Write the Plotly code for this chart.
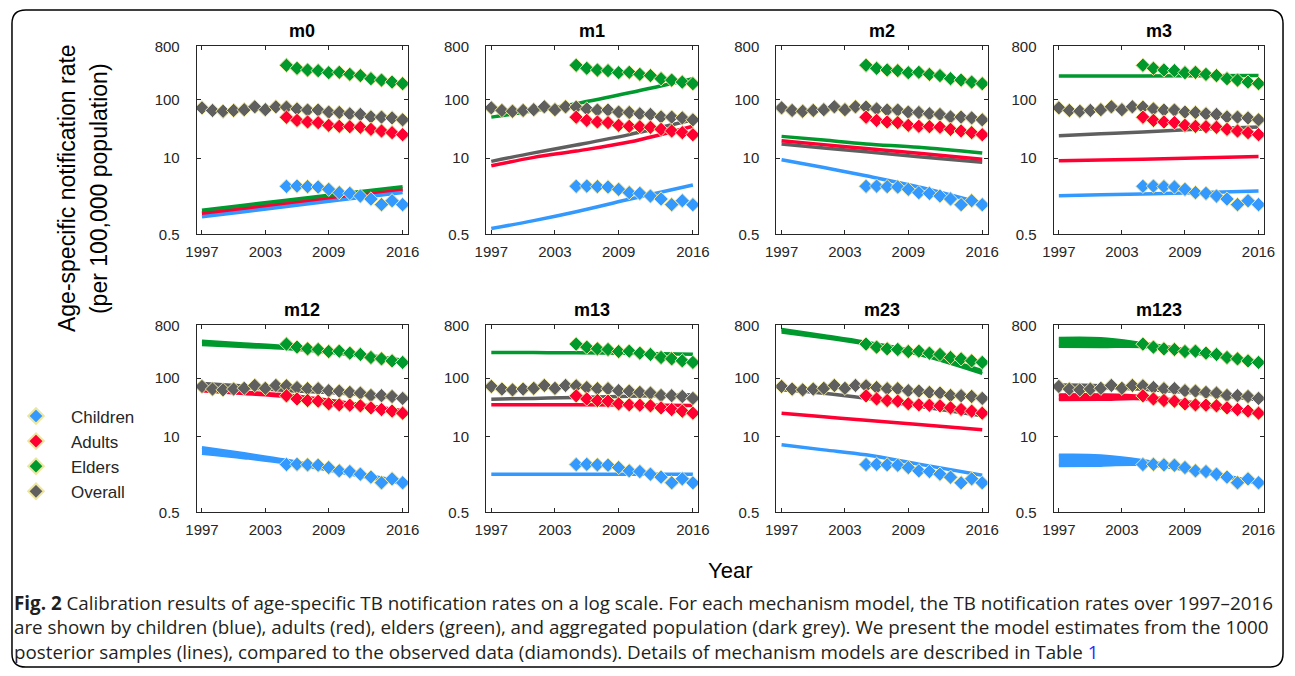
import math
import plotly.graph_objects as go

W, H = 1295, 676

# ---------------- observed data (diamonds) ----------------
OBS_YEARS_ALL = list(range(1997, 2017))
OBS_YEARS_AGE = list(range(2005, 2017))
obs_overall = [72, 65, 63, 65, 67, 75, 67, 75, 74, 69, 66, 66, 61, 60, 57, 55.5, 50.5, 50, 48.5, 45]
obs_children = [3.31, 3.34, 3.27, 3.22, 2.94, 2.58, 2.51, 2.26, 2.01, 1.61, 1.88, 1.61]
obs_adults = [49.8, 44, 41.4, 40.3, 36.3, 34.9, 34.4, 33.6, 31, 29, 27.2, 25.1]
obs_elders = [383, 340, 318, 310, 286, 290, 268, 255, 226, 214, 198, 186]

# ---------------- model estimates (posterior lines / bands) ----------------
MODEL_YEARS = [1997, 2001, 2005, 2010, 2016]
# each entry: single list = thin line, (lo, hi) = band of posterior lines
m0_est = {
    "Overall": [1.17, 1.42, 1.73, 2.22, 2.98],
    "Adults": [1.12, 1.36, 1.66, 2.13, 2.86],
    "Elders": [1.30, 1.58, 1.92, 2.44, 3.27],
    "Children": [1.0, 1.22, 1.5, 1.93, 2.6],
}
m1_est = {
    "Overall": [8.8, 12.3, 16.7, 25.2, 45],
    "Adults": [7.4, 10.3, 13.2, 18.8, 35],
    "Elders": [50, 64, 85, 130, 226],
    "Children": [0.63, 0.86, 1.22, 1.99, 3.49],
}
m2_est = {
    "Overall": [17.4, 14.9, 12.8, 10.6, 8.5],
    "Adults": [19.8, 17.0, 14.6, 12.1, 9.6],
    "Elders": [23.5, 20.3, 17.5, 15.3, 12.2],
    "Children": [9.4, 6.9, 5.0, 3.22, 1.69],
}
m3_est = {
    "Overall": [24, 26, 28, 31, 34],
    "Adults": [9.0, 9.3, 9.6, 10.1, 10.7],
    "Elders": [251, 251, 252, 253, 255],
    "Children": [2.29, 2.37, 2.45, 2.58, 2.75],
}
m12_est = {
    "Overall": ([74, 68, 61, 55, 44], [82, 74, 65, 58, 46]),
    "Adults": ([60, 54, 48, 37, 26], [66, 58, 52, 40, 28]),
    "Elders": ([372, 345, 320, 265, 190], [435, 390, 350, 285, 205]),
    "Children": ([5.1, 4.3, 3.5, 2.45, 1.55], [6.5, 5.1, 3.95, 2.65, 1.7]),
}
m13_est = {
    "Overall": [43.7, 45, 46.6, 49, 52],
    "Adults": [35, 35, 35, 34.5, 34],
    "Elders": [276, 274, 272, 266, 258],
    "Children": [2.26, 2.26, 2.26, 2.26, 2.26],
}
m23_est = {
    "Overall": [63, 55, 45, 33, 22.6],
    "Adults": [25, 21.8, 19, 16, 13],
    "Elders": ([610, 490, 380, 255, 120], [690, 540, 415, 280, 135]),
    "Children": [7.2, 5.9, 4.85, 3.36, 2.17],
}
m123_est = {
    "Overall": ([69, 68, 64, 55, 42], [77, 75, 69, 58, 45]),
    "Adults": ([42.5, 43, 44, 35, 24], [52, 52, 49, 38, 26]),
    "Elders": ([349, 345, 345, 265, 180], [485, 480, 395, 290, 195]),
    "Children": ([3.14, 3.2, 3.3, 2.5, 1.55], [4.8, 4.7, 3.9, 2.7, 1.65]),
}

MODELS = ["m0", "m1", "m2", "m3", "m12", "m13", "m23", "m123"]
ESTIMATES = [m0_est, m1_est, m2_est, m3_est, m12_est, m13_est, m23_est, m123_est]
GROUPS = ["Children", "Adults", "Elders", "Overall"]
COLORS = {"Children": "#3399ff", "Adults": "#ff0033", "Elders": "#00992e", "Overall": "#5f5f5f"}

Y_TICKS = [0.5, 10, 100, 800]
X_TICKS = [1997, 2003, 2009, 2016]

# ---------------- layout geometry (target pixels in the photographed picture) ----------------
COLS = [(197, 408), (486, 698), (776, 987), (1053, 1263)]
ROWS = [(46, 234), (325, 512)]

# the photographed page appears slightly shrunk/offset; map target pixels to page pixels
SX, OX = 0.982, 11.5
SY, OY = 0.975, 8.5


def fx(px, clip=True):
    p = (px - OX) / SX
    if clip:
        p = min(max(p, 1), W - 1)
    return p / W


def fy(py):
    p = (py - OY) / SY
    return 1 - min(max(p, 1), H - 1) / H


FONT = "Liberation Sans, Arial, sans-serif"
fig = go.Figure()
annotations = []

for i, (name, est) in enumerate(zip(MODELS, ESTIMATES)):
    r, c = divmod(i, 4)
    ax = "" if i == 0 else str(i + 1)
    xa, ya = "x" + ax, "y" + ax
    # model lines
    for g in ["Overall", "Adults", "Elders", "Children"]:
        v = est[g]
        col = COLORS[g]
        if isinstance(v, tuple):
            lo, hi = v
            fig.add_trace(go.Scatter(x=MODEL_YEARS, y=lo, mode="lines", xaxis=xa, yaxis=ya,
                                     line=dict(color=col, width=3, shape="spline"),
                                     showlegend=False, hoverinfo="skip"))
            fig.add_trace(go.Scatter(x=MODEL_YEARS, y=hi, mode="lines", xaxis=xa, yaxis=ya,
                                     line=dict(color=col, width=3, shape="spline"),
                                     fill="tonexty", fillcolor=col,
                                     showlegend=False, hoverinfo="skip"))
        else:
            fig.add_trace(go.Scatter(x=MODEL_YEARS, y=v, mode="lines", xaxis=xa, yaxis=ya,
                                     line=dict(color=col, width=3.5, shape="spline"),
                                     showlegend=False, hoverinfo="skip"))
    # observed diamonds
    obs = [("Overall", OBS_YEARS_ALL, obs_overall, 4),
           ("Adults", OBS_YEARS_AGE, obs_adults, 2),
           ("Elders", OBS_YEARS_AGE, obs_elders, 3),
           ("Children", OBS_YEARS_AGE, obs_children, 1)]
    for g, xs, ys, rank in obs:
        fig.add_trace(go.Scatter(x=xs, y=ys, mode="markers", xaxis=xa, yaxis=ya, name=g,
                                 legendrank=rank, showlegend=(i == 0),
                                 marker=dict(symbol="diamond", size=11, color=COLORS[g],
                                             line=dict(color="#ece6a0", width=1))))
    x0, x1 = COLS[c]
    y0, y1 = ROWS[r]
    common = dict(showline=True, linecolor="#262626", linewidth=1, mirror="ticks",
                  ticks="inside", ticklen=4, tickcolor="#262626", showgrid=False,
                  zeroline=False, tickfont=dict(family=FONT, size=15, color="#262626"))
    fig.layout["xaxis" + ax] = dict(domain=[fx(x0), fx(x1)], anchor=ya, range=[1996.5, 2016.5],
                                    tickvals=X_TICKS, ticklabelstandoff=4, **common)
    fig.layout["yaxis" + ax] = dict(domain=[fy(y1), fy(y0)], anchor=xa, type="log",
                                    range=[math.log10(0.5), math.log10(800)],
                                    tickvals=Y_TICKS, ticktext=[str(t) for t in Y_TICKS],
                                    ticklabelstandoff=13, **common)
    annotations.append(dict(text="<b>%s</b>" % name, x=fx((x0 + x1) / 2), y=fy(y0 - 3),
                            xref="paper", yref="paper", xanchor="center", yanchor="bottom",
                            showarrow=False, font=dict(family=FONT, size=18, color="black")))

# axis titles
annotations.append(dict(text="Year", x=fx(730), y=fy(570), xref="paper", yref="paper",
                        xanchor="center", yanchor="middle",
                        showarrow=False, font=dict(family=FONT, size=22, color="black")))
for txt, xp in [("Age-specific notification rate", 68), ("(per 100,000 population)", 100)]:
    annotations.append(dict(text=txt, x=fx(xp), y=fy(188), xref="paper", yref="paper",
                            textangle=-90, xanchor="center", yanchor="middle",
                            showarrow=False, font=dict(family=FONT, size=23, color="black")))

# caption
CAPTION = [
    "<b>Fig. 2</b> Calibration results of age-specific TB notification rates on a log scale. "
    "For each mechanism model, the TB notification rates over 1997–2016",
    "are shown by children (blue), adults (red), elders (green), and aggregated population "
    "(dark grey). We present the model estimates from the 1000",
    "posterior samples (lines), compared to the observed data (diamonds). Details of mechanism "
    "models are described in Table <span style='color:#2a2aff'>1</span>",
]
annotations.append(dict(text="<br>".join(CAPTION), x=fx(10), y=fy(627), xref="paper", yref="paper",
                        xanchor="left", yanchor="middle", align="left", showarrow=False,
                        font=dict(family="Open Sans, sans-serif", size=18.8, color="#231f20")))

# rounded frame
bx0, bx1, by0, by1, rad = 10, 1289, 8, 671, 14
rx, ry = rad / W, rad / H
X0, X1, YT, YB = fx(bx0), fx(bx1), fy(by0), fy(by1)
path = (f"M {X0+rx},{YT} L {X1-rx},{YT} Q {X1},{YT} {X1},{YT-ry} L {X1},{YB+ry} "
        f"Q {X1},{YB} {X1-rx},{YB} L {X0+rx},{YB} Q {X0},{YB} {X0},{YB+ry} "
        f"L {X0},{YT-ry} Q {X0},{YT} {X0+rx},{YT} Z")

fig.update_layout(
    width=W, height=H, margin=dict(l=0, r=0, t=0, b=0),
    paper_bgcolor="white", plot_bgcolor="white",
    annotations=annotations,
    shapes=[dict(type="path", path=path, xref="paper", yref="paper",
                 line=dict(color="black", width=1.5))],
    showlegend=True,
    legend=dict(x=fx(1.5, clip=False), y=fy(398), xanchor="left", yanchor="top", itemwidth=60,
                bgcolor="rgba(0,0,0,0)", font=dict(family=FONT, size=17, color="#262626"),
                itemsizing="constant", traceorder="normal"),
)

fig.write_html("out.html", config={"displayModeBar": False},
               post_script="document.body.style.margin='0px';document.body.style.overflow='hidden';")
